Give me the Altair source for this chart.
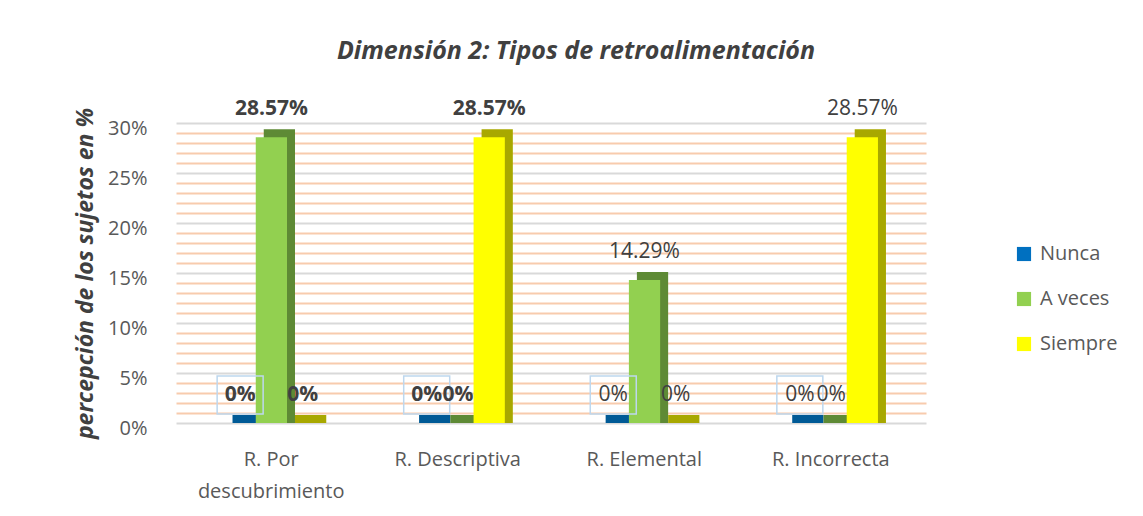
import altair as alt
import pandas as pd

categories = ["R. Por descubrimiento", "R. Descriptiva", "R. Elemental", "R. Incorrecta"]
series = ["Nunca", "A veces", "Siempre"]
nunca = [0.0, 0.0, 0.0, 0.0]
a_veces = [28.57, 0.0, 14.29, 0.0]
siempre = [0.0, 28.57, 0.0, 28.57]
bold_labels = [True, True, False, False]
label_texts = {
    "Nunca": ["0%", "0%", "0%", "0%"],
    "A veces": ["28.57%", "0%", "14.29%", "0%"],
    "Siempre": ["0%", "28.57%", "0%", "28.57%"],
}

rows = []
for i, c in enumerate(categories):
    for s, vals in zip(series, [nunca, a_veces, siempre]):
        rows.append({"cat": c, "serie": s, "val": vals[i],
                     "label": label_texts[s][i], "bold": bold_labels[i]})
df = pd.DataFrame(rows)

font = "Open Sans"
front_colors = ["#0070C0", "#92D050", "#FFFF00"]
side_colors = ["#005A96", "#5E8A35", "#A8A800"]

W, H = 750, 300
band = W / 4.0 * 0.5  # bandwidth with paddingInner 0.5, paddingOuter 0.25
depth = 8
half = band / 6.0

x_enc = alt.X("cat:N", sort=categories, title=None,
              scale=alt.Scale(paddingInner=0.5, paddingOuter=0.26),
              axis=alt.Axis(labelAngle=0, domain=False, ticks=False, labelFont=font,
                            labelFontSize=20, labelColor="#595959", labelPadding=26,
                            labelLineHeight=32,
                            labelExpr="datum.label == 'R. Por descubrimiento' ? ['R. Por', 'descubrimiento'] : datum.label"))
xo_front = alt.XOffset("serie:N", sort=series,
                       scale=alt.Scale(domain=series, range=[0, band], paddingInner=0, paddingOuter=0))
xo_side = alt.XOffset("serie:N", sort=series,
                      scale=alt.Scale(domain=series, range=[depth, band + depth], paddingInner=0, paddingOuter=0))
xo_text = alt.XOffset("serie:N", sort=series,
                      scale=alt.Scale(type="point", domain=series, range=[half, band - half], padding=0))
y_enc = alt.Y("val:Q", title="percepción de los sujetos en %",
              scale=alt.Scale(domain=[0, 30], nice=False),
              axis=alt.Axis(values=list(range(0, 31)), domain=False, ticks=False,
                            labelExpr="datum.value % 5 === 0 ? datum.value + '%' : ''",
                            labelFont=font, labelFontSize=20, labelColor="#595959",
                            labelPadding=29, labelOffset=5,
                            gridColor=alt.ExprRef(expr="datum.value % 5 === 0 ? '#D9D9D9' : '#F8CBAD'"),
                            gridWidth=2,
                            titleFont=font, titleFontSize=23, titleFontStyle="italic",
                            titleFontWeight="bold", titleColor="#404040", titlePadding=10))

base = alt.Chart(df)

side = base.mark_bar(yOffset=-depth, y2Offset=0).encode(
    x=x_enc, xOffset=xo_side, y=y_enc, y2=alt.datum(0),
    color=alt.Color("serie:N", sort=series, scale=alt.Scale(domain=series, range=side_colors), legend=None),
)

front = base.mark_bar().encode(
    x=x_enc, xOffset=xo_front, y=y_enc,
    color=alt.Color("serie:N", sort=series, title=None,
                    scale=alt.Scale(domain=series, range=front_colors),
                    legend=alt.Legend(orient="none", legendX=838, legendY=121,
                                      symbolType="square", symbolSize=200, symbolStrokeWidth=0,
                                      labelFont=font, labelFontSize=20, labelColor="#595959",
                                      rowPadding=25, labelOffset=6)),
)

# light outline boxes around the "Nunca" data labels
boxes = base.transform_filter(alt.datum.serie == "Nunca").mark_point(
    shape="M-1,-0.83L1,-0.83L1,0.83L-1,0.83Z", filled=False, size=2116,
    stroke="#BDD7EE", strokeWidth=1.5, opacity=1, yOffset=-28
).encode(x=x_enc, xOffset=xo_text, y=y_enc)

def text_layer(is_bold):
    return base.transform_filter(alt.datum.bold == is_bold).mark_text(
        dy=-28, font=font, fontSize=21, color="#404040",
        fontWeight="bold" if is_bold else "normal"
    ).encode(x=x_enc, xOffset=xo_text, y=y_enc, text="label:N")

bars = alt.layer(side, front).resolve_scale(color="independent", xOffset="independent")
labels = alt.layer(boxes, text_layer(True), text_layer(False))

chart = alt.layer(bars, labels).resolve_scale(xOffset="independent").properties(
    width=W, height=H,
    padding={"left": 66, "top": 31, "right": 5, "bottom": 5},
    title=alt.TitleParams("Dimensión 2: Tipos de retroalimentación", font=font, fontSize=25,
                          fontStyle="italic", fontWeight="bold", color="#404040",
                          offset=34, dx=25),
).configure_view(stroke=None).configure_axisY(grid=True).configure_axisX(grid=False)

chart.save("out.html", embed_options={"renderer": "svg", "actions": False})
